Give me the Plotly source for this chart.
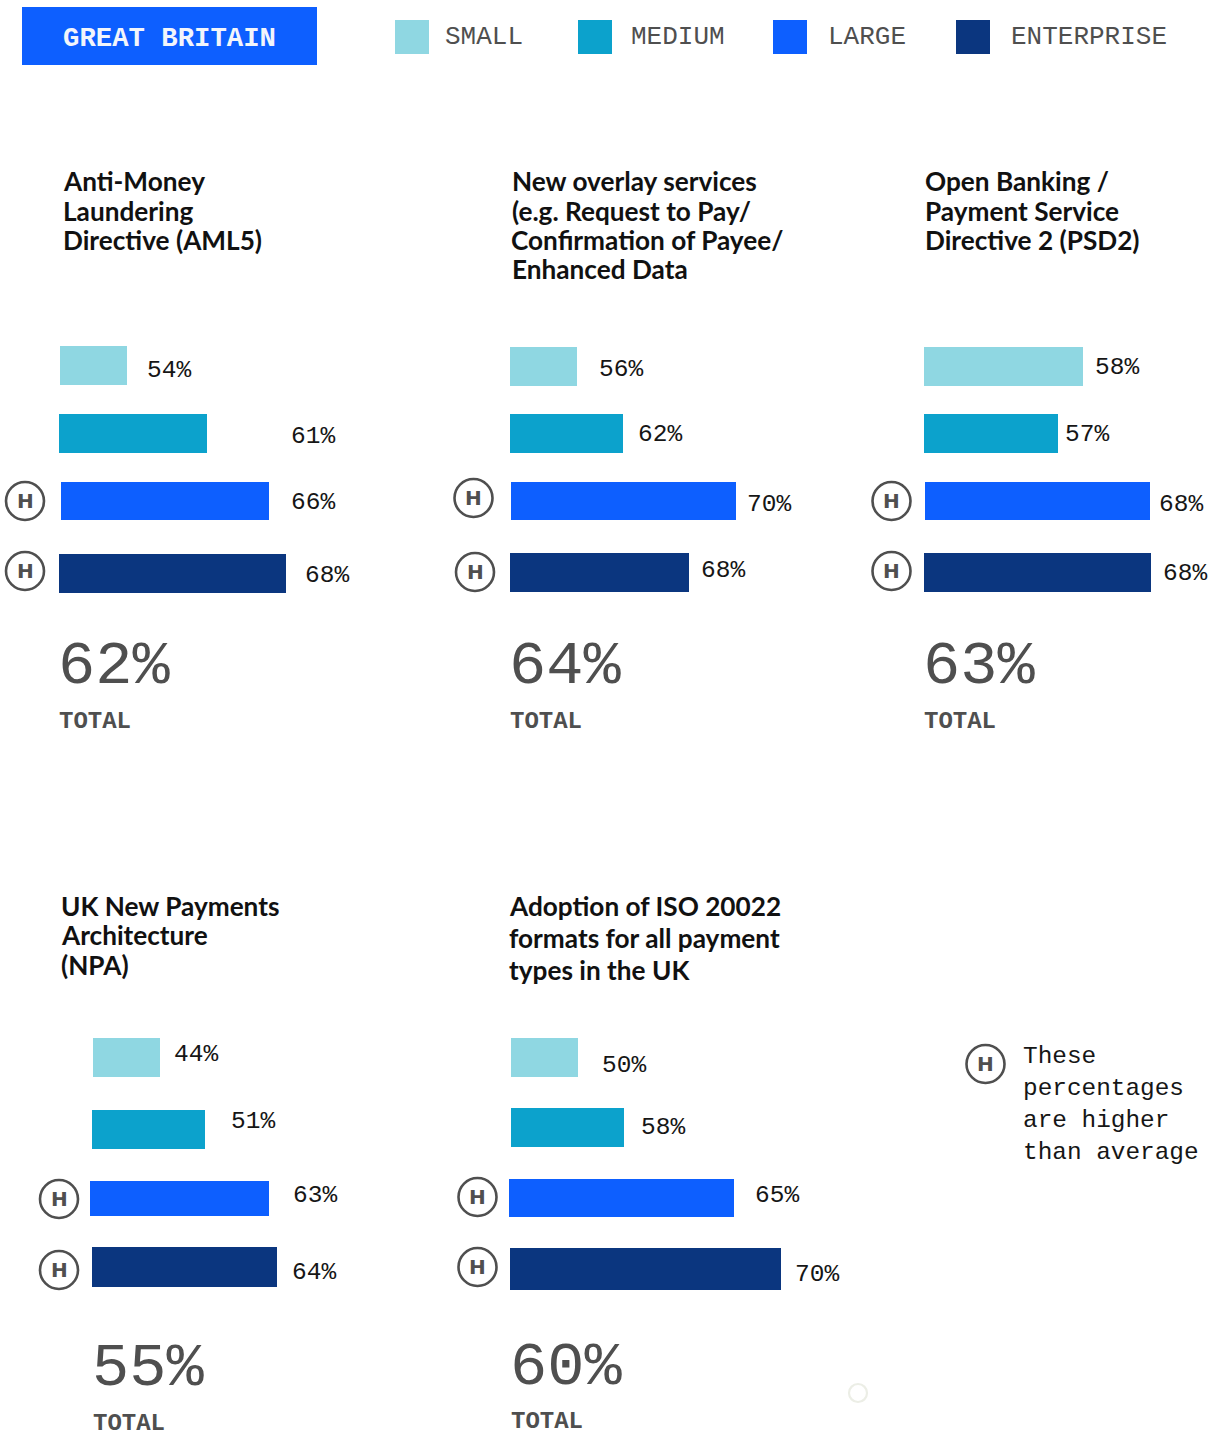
import plotly.graph_objects as go

# ---------- data ----------
CATEGORIES = ["Small", "Medium", "Large", "Enterprise"]
BANNER = "GREAT BRITAIN"
FOOTNOTE = ["These", "percentages", "are higher", "than average"]
TITLES = [
    ["Anti-Money", "Laundering", "Directive (AML5)"],
    ["New overlay services", "(e.g. Request to Pay/", "Confirmation of Payee/", "Enhanced Data"],
    ["Open Banking /", "Payment Service", "Directive 2 (PSD2)"],
    ["UK New Payments", "Architecture", "(NPA)"],
    ["Adoption of ISO 20022", "formats for all payment", "types in the UK"],
]
PERCENTS = [[54, 61, 66, 68], [56, 62, 70, 68], [58, 57, 68, 68], [44, 51, 63, 64], [50, 58, 65, 70]]
TOTALS = [62, 64, 63, 55, 60]
# drawn bar lengths: the reference's bars are not proportional to their labels
BAR_LENGTHS = [
    [67, 148, 208, 227],
    [67, 113, 225, 179],
    [159, 134, 225, 227],
    [67, 113, 179, 185],
    [67, 113, 225, 271],
]

# ---------- layout (pixels of the 1212x1445 page) ----------
W, H = 1212, 1445
COLORS = ["#8fd7e2", "#0ca2cc", "#0d5fff", "#0b367f"]
GREY = "#4f4f4f"
INK = "#161616"
MONO = "Liberation Mono"
TITLE_FONT = "Lato"
UNIT = 68
AXIS_W = 288

PANEL_LEFT = [59, 510, 924, 90, 509]
PANEL_TOP = [332, 332, 332, 1024, 1024]
BAR_START = [[1, 0, 2, 0], [0, 0, 1, 0], [0, 0, 1, 0], [3, 2, 0, 2], [2, 2, 0, 1]]
BAR_Y = [
    [(346, 385), (414, 453), (482, 520), (554, 593)],
    [(347, 386), (414, 453), (482, 520), (553, 592)],
    [(347, 386), (414, 453), (482, 520), (553, 592)],
    [(1038, 1077), (1110, 1149), (1181, 1216), (1247, 1287)],
    [(1038, 1077), (1108, 1147), (1179, 1217), (1248, 1290)],
]
LABEL_GAP = [[20.2, 84.2, 22.2, 19.2], [22.2, 14.7, 11.2, 12.2], [11.7, 6.7, 9.2, 12.2], [14.2, 26.2, 24.2, 15.2], [24.2, 17.2, 21.2, 14.2]]
LABEL_Y = [
    [371, 436.5, 502.5, 575],
    [370, 434.5, 504.5, 570],
    [367.5, 435, 504.5, 573.5],
    [1054, 1121, 1195, 1272],
    [1065, 1127, 1195, 1274.5],
]
TITLE_POS = [
    [(63, 181), (63, 211), (63, 240)],
    [(512, 181), (511.5, 211), (511, 240), (512, 269)],
    [(925, 181), (925, 211), (925, 240)],
    [(61, 906), (61, 935), (61, 965)],
    [(509, 906), (509, 938), (509, 970)],
]
BIG_POS = [(58, 666.5), (509, 666.5), (923, 666.5), (92, 1368.5), (510, 1367.5)]
TOTAL_POS = [(59, 721.5), (510, 721.5), (924, 721.5), (93, 1423), (511, 1421.5)]
H_MARKS = [(25, 501), (25, 571), (473.5, 498), (475, 572), (891.5, 501), (891.5, 571),
           (59, 1199), (59, 1270), (477.5, 1197), (477.5, 1267), (985.5, 1064)]
LEGEND = [(395, 445), (578, 631), (773, 828), (956, 1011)]
FOOTNOTE_POS = [(1023, 1056), (1023, 1088), (1023, 1120), (1023, 1152)]

px = lambda x: x / W
py = lambda y: 1 - y / H


def text(x, y, s, size, color=INK, family=MONO, weight="normal"):
    return dict(xref="paper", yref="paper", x=px(x), y=py(y), text=s, showarrow=False,
                xanchor="left", yanchor="middle", borderpad=0, borderwidth=0,
                font=dict(family=family, size=size, color=color, weight=weight))


def rect(x0, y0, x1, y1, color):
    return dict(type="rect", xref="paper", yref="paper", x0=px(x0), x1=px(x1), y0=py(y0), y1=py(y1),
                fillcolor=color, line=dict(width=0), layer="below")


fig = go.Figure()
annotations, shapes = [], []
axes = {}

for i in range(5):
    suffix = "" if i == 0 else str(i + 1)
    top = PANEL_TOP[i]
    centers = [top + UNIT / 2 + UNIT * r for r in range(4)]
    widths = [(b - a) / UNIT for a, b in BAR_Y[i]]
    offsets = [(a - c) / UNIT for (a, b), c in zip(BAR_Y[i], centers)]
    fig.add_bar(
        x=BAR_LENGTHS[i], y=CATEGORIES, base=BAR_START[i], orientation="h",
        width=widths, offset=offsets, marker=dict(color=COLORS, line=dict(width=0)),
        xaxis="x" + suffix, yaxis="y" + suffix, showlegend=False,
        customdata=PERCENTS[i], hovertemplate="%{y}: %{customdata}%<extra></extra>",
    )
    axes["xaxis" + suffix] = dict(
        domain=[px(PANEL_LEFT[i]), px(PANEL_LEFT[i] + AXIS_W)], range=[0, AXIS_W], visible=False,
        anchor="y" + suffix, fixedrange=True)
    axes["yaxis" + suffix] = dict(
        domain=[py(top + 4 * UNIT), py(top)], range=[3.5, -0.5], visible=False, type="category",
        categoryorder="array", categoryarray=CATEGORIES, anchor="x" + suffix, fixedrange=True)

    for r, cat in enumerate(CATEGORIES):
        annotations.append(dict(
            xref="x" + suffix, yref="y" + suffix, x=BAR_START[i][r] + BAR_LENGTHS[i][r], y=cat,
            xshift=LABEL_GAP[i][r], yshift=centers[r] - LABEL_Y[i][r], text=f"{PERCENTS[i][r]}%",
            showarrow=False, xanchor="left", yanchor="middle", borderpad=0, borderwidth=0,
            font=dict(family=MONO, size=24.5, color=INK)))
    for (x, y), line in zip(TITLE_POS[i], TITLES[i]):
        annotations.append(text(x, y, line, 26.2, "#111111", TITLE_FONT, 700))
    annotations.append(text(*BIG_POS[i], f"{TOTALS[i]}%", 62, GREY))
    annotations.append(text(*TOTAL_POS[i], "TOTAL", 24, GREY, MONO, "bold"))

# banner and legend
shapes.append(rect(22, 7, 317, 65, COLORS[2]))
annotations.append(text(63, 39, BANNER, 27.3, "#f2f5fb", MONO, "bold"))
for (sx, tx), cat, col in zip(LEGEND, CATEGORIES, COLORS):
    shapes.append(rect(sx, 20, sx + 34, 54, col))
    annotations.append(text(tx, 37.5, cat.upper(), 26, GREY))

# H badges
for cx, cy in H_MARKS:
    shapes.append(dict(type="circle", xref="paper", yref="paper", x0=px(cx - 19), x1=px(cx + 19),
                       y0=py(cy + 19), y1=py(cy - 19), line=dict(color=GREY, width=2.6)))
    annotations.append(dict(xref="paper", yref="paper", x=px(cx), y=py(cy), text="H", showarrow=False,
                            xanchor="center", yanchor="middle", borderpad=0, borderwidth=0,
                            font=dict(family="DejaVu Sans", size=20, color=GREY, weight="bold")))

for (x, y), line in zip(FOOTNOTE_POS, FOOTNOTE):
    annotations.append(text(x, y, line, 24.4, INK))

# faint ring
shapes.append(dict(type="circle", xref="paper", yref="paper", x0=px(849), x1=px(867),
                   y0=py(1402), y1=py(1384), line=dict(color="#eceee6", width=2.2)))

fig.update_layout(
    width=W, height=H, margin=dict(l=0, r=0, t=0, b=0), plot_bgcolor="white", paper_bgcolor="white",
    bargap=0, annotations=annotations, shapes=shapes, **axes)

fig.write_html("out.html", config=dict(displayModeBar=False),
               post_script="document.body.style.margin='0';document.body.style.overflow='hidden';")
